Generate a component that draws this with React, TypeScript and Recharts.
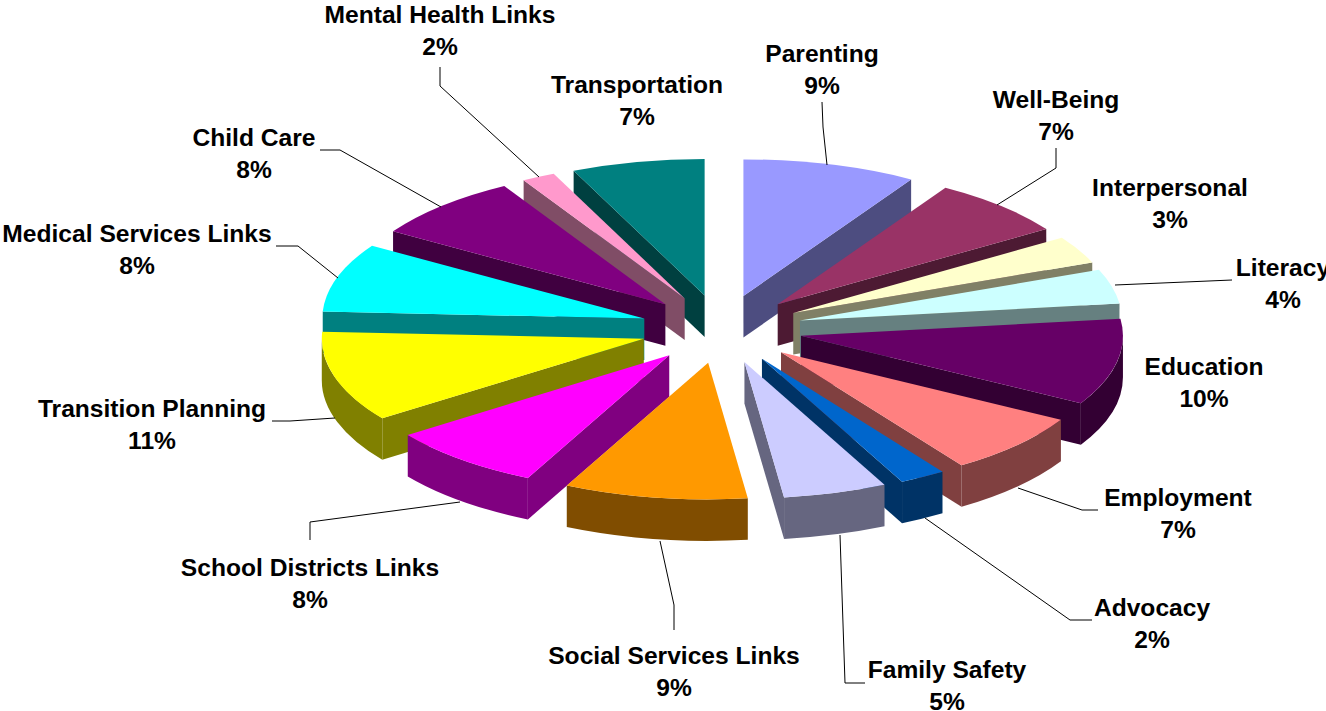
import { PieChart, Pie } from "recharts";

const categories = [
  "Parenting", "Well-Being", "Interpersonal", "Literacy", "Education",
  "Employment", "Advocacy", "Family Safety", "Social Services Links", "School Districts Links",
  "Transition Planning", "Medical Services Links", "Child Care", "Mental Health Links", "Transportation",
];
const shares = [8.72, 6.98, 3.25, 4.08, 10.2, 7.3, 2.31, 5.2, 9.2, 7.85, 10.74, 8.14, 7.7, 1.67, 6.67];
const topColors = [
  "#9999FF", "#993366", "#FFFFCC", "#CCFFFF", "#660066",
  "#FF8080", "#0066CC", "#CCCCFF", "#FF9900", "#FF00FF",
  "#FFFF00", "#00FFFF", "#800080", "#FF99CC", "#008080",
];
const wallColors = [
  "#4D4D80", "#4D1A33", "#808066", "#668080", "#330033",
  "#804040", "#003366", "#666680", "#804D00", "#800080",
  "#808000", "#008080", "#400040", "#804D66", "#004040",
];

// layout only: label centre, then leader line points
const labelLayout: { x: number; y: number; line?: number[][] }[] = [
  { x: 822, y: 53, line: [[822, 102], [823, 127], [827, 165]] },
  { x: 1056, y: 99, line: [[1056, 148], [1056, 168], [997, 205]] },
  { x: 1170, y: 187 },
  { x: 1283, y: 267, line: [[1232, 280], [1115, 285]] },
  { x: 1204, y: 366 },
  { x: 1178, y: 497, line: [[1098, 510], [1082, 510], [1018, 488]] },
  { x: 1152, y: 607, line: [[1092, 620], [1070, 620], [925, 518]] },
  { x: 947, y: 669, line: [[865, 683], [845, 683], [840, 535]] },
  { x: 674, y: 655, line: [[674, 630], [674, 605], [660, 541]] },
  { x: 310, y: 567, line: [[310, 540], [310, 522], [460, 502]] },
  { x: 152, y: 408, line: [[272, 421], [290, 421], [335, 418]] },
  { x: 137, y: 233, line: [[276, 246], [298, 246], [338, 278]] },
  { x: 254, y: 137, line: [[320, 150], [340, 150], [441, 207]] },
  { x: 440, y: 14, line: [[440, 67], [440, 86], [539, 177]] },
  { x: 637, y: 84 },
];

const chartData = categories.map((name, i) => ({
  name,
  value: shares[i],
  fill: topColors[i],
  wall: wallColors[i],
}));

// painter's order: the left side has to go back to front, so it is its own Pie running the other way
const RIGHT_COUNT = 9;
const rightData = chartData.slice(0, RIGHT_COUNT);
const leftData = chartData.slice(RIGHT_COUNT).reverse();
const total = shares.reduce((a, b) => a + b, 0);
const sweepOf = (rows: typeof chartData) => (rows.reduce((a, r) => a + r.value, 0) / total) * 360;

const CX = 721.5;
const CY = 329;
const RADIUS = 322;
const TILT = 0.424;
const DEPTH = 41.5;
const EXPLODE = 81;

const rad = (d: number) => (d * Math.PI) / 180;

// fake 3D wedge: flatten the recharts angles into an ellipse and extrude it
const Wedge3D = (props: any) => {
  const { cx, cy, outerRadius, startAngle, endAngle, fill, wall } = props;
  const hi = Math.max(startAngle, endAngle);
  const lo = Math.min(startAngle, endAngle);
  // clockwise from 12 o'clock
  const from = (((90 - hi) % 360) + 360) % 360;
  const to = from + (hi - lo);
  const mid = rad((from + to) / 2);
  const ox = cx + EXPLODE * Math.sin(mid);
  const oy = cy - EXPLODE * TILT * Math.cos(mid);
  const ry = outerRadius * TILT;
  const pt = (deg: number) => [
    ox + outerRadius * Math.sin(rad(deg)),
    oy - ry * Math.cos(rad(deg)),
  ];
  const [sx, sy] = pt(from);
  const [ex, ey] = pt(to);
  const faces: string[] = [];

  // radial faces, only those turned to the viewer
  if (sx < ox) faces.push(`M${ox},${oy}L${sx},${sy}L${sx},${sy + DEPTH}L${ox},${oy + DEPTH}Z`);
  if (ex > ox) faces.push(`M${ox},${oy}L${ex},${ey}L${ex},${ey + DEPTH}L${ox},${oy + DEPTH}Z`);

  // outer wall on the front half
  const wallFrom = Math.max(from, 90);
  const wallTo = Math.min(to, 270);
  if (wallFrom < wallTo) {
    const [ax, ay] = pt(wallFrom);
    const [bx, by] = pt(wallTo);
    faces.push(
      `M${ax},${ay}A${outerRadius},${ry} 0 0 1 ${bx},${by}L${bx},${by + DEPTH}A${outerRadius},${ry} 0 0 0 ${ax},${ay + DEPTH}Z`,
    );
  }

  return (
    <g>
      {faces.map((d, i) => (
        <path key={i} d={d} fill={wall} />
      ))}
      <path d={`M${ox},${oy}L${sx},${sy}A${outerRadius},${ry} 0 0 1 ${ex},${ey}Z`} fill={fill} />
    </g>
  );
};

const textStyle = {
  fontFamily: "Liberation Sans",
  fontWeight: "bold",
  fontSize: 24.6,
  fill: "#000",
};

const renderLabel = (props: any) => {
  const { name, value } = props;
  const pos = labelLayout[categories.indexOf(name)];
  return (
    <g key={name}>
      {pos.line && (
        <polyline
          points={pos.line.map((p) => p.join(",")).join(" ")}
          fill="none"
          stroke="#000"
          strokeWidth={1}
        />
      )}
      <text x={pos.x} y={pos.y} textAnchor="middle" dominantBaseline="central" {...textStyle}>
        {name}
      </text>
      <text x={pos.x} y={pos.y + 32} textAnchor="middle" dominantBaseline="central" {...textStyle}>
        {Math.round(value)}%
      </text>
    </g>
  );
};

export default function App() {
  return (
    <div style={{ position: "absolute", left: 0, top: 0, background: "#fff" }}>
      <PieChart width={1326} height={711} margin={{ top: 0, right: 0, bottom: 0, left: 0 }}>
        <Pie
          data={leftData}
          dataKey="value"
          nameKey="name"
          cx={CX}
          cy={CY}
          outerRadius={RADIUS}
          startAngle={90}
          endAngle={90 + sweepOf(leftData)}
          stroke="none"
          shape={Wedge3D}
          label={renderLabel}
          labelLine={false}
          isAnimationActive={false}
        />
        <Pie
          data={rightData}
          dataKey="value"
          nameKey="name"
          cx={CX}
          cy={CY}
          outerRadius={RADIUS}
          startAngle={90}
          endAngle={90 - sweepOf(rightData)}
          stroke="none"
          shape={Wedge3D}
          label={renderLabel}
          labelLine={false}
          isAnimationActive={false}
        />
      </PieChart>
    </div>
  );
}
